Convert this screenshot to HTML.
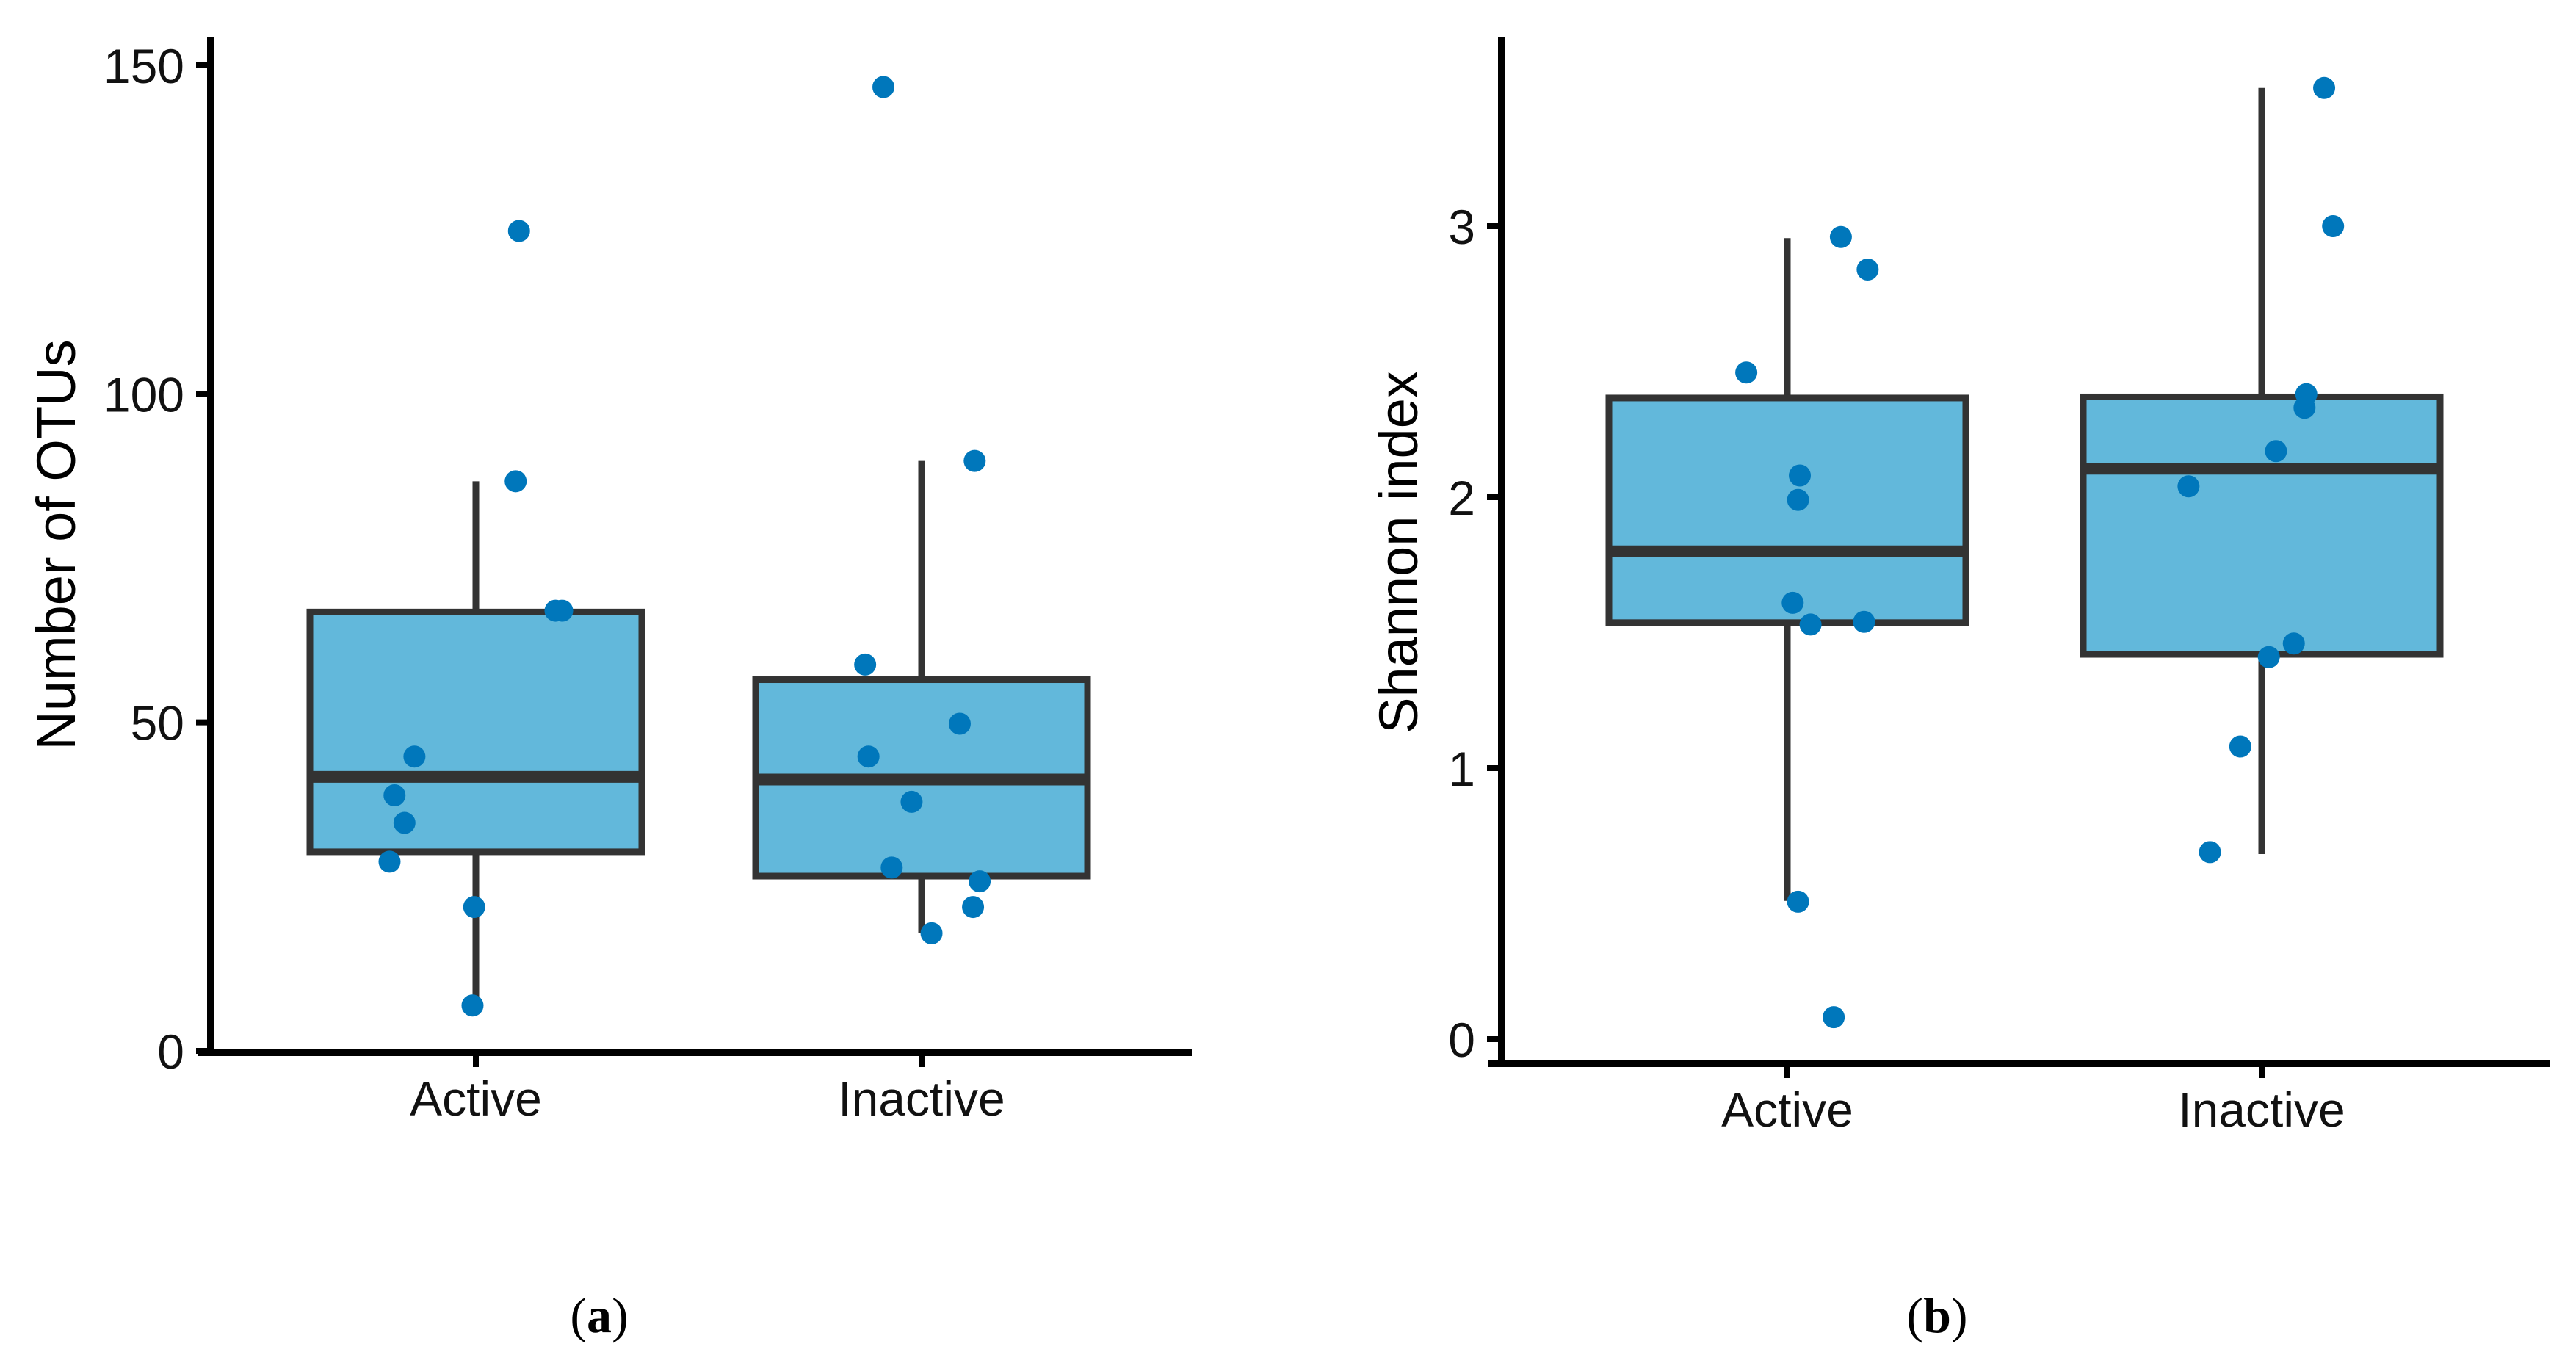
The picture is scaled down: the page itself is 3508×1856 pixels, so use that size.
<!DOCTYPE html>
<html><head><meta charset="utf-8"><style>
html,body{margin:0;padding:0;background:#fff;}
svg{display:block;font-family:"Liberation Sans",Arial,sans-serif;}
</style></head><body>
<svg id="fig" width="3508" height="1856" viewBox="0 0 3508 1856" xmlns="http://www.w3.org/2000/svg">
<rect width="3508" height="1856" fill="#fff"/>
<g id="pa"></g>
<g id="pb"></g>
<text x="816" y="1814" font-family="Liberation Serif, serif" font-size="68" text-anchor="middle">(<tspan font-weight="bold">a</tspan>)</text>
<text x="2638" y="1814" font-family="Liberation Serif, serif" font-size="68" text-anchor="middle">(<tspan font-weight="bold">b</tspan>)</text>
</svg>
<script>
const categories = ["Active", "Inactive"];
// panel a: box stats [lowWhisker, q1, median, q3, highWhisker]
const otuStats = [[7, 30.3, 41.7, 66.8, 86.7], [18, 26.6, 41.3, 56.5, 89.8]];
const otuPoints = [
  [124.8, 86.7, 67, 67, 44.8, 38.9, 34.7, 28.8, 21.9, 6.9],
  [146.7, 89.8, 58.8, 49.8, 44.8, 37.9, 27.9, 25.8, 21.9, 17.9]
];
const otuJitter = [
  [0.26, 0.24, 0.48, 0.52, -0.37, -0.49, -0.43, -0.52, -0.01, -0.02],
  [-0.23, 0.32, -0.34, 0.23, -0.32, -0.06, -0.18, 0.35, 0.31, 0.06]
];
const otuTicks = [0, 50, 100, 150];
// panel b
const shStats = [[0.51, 1.537, 1.80, 2.366, 2.956], [0.683, 1.42, 2.105, 2.37, 3.51]];
const shPoints = [
  [2.96, 2.84, 2.46, 2.08, 1.99, 1.61, 1.53, 1.54, 0.507, 0.081],
  [3.51, 3.0, 2.38, 2.33, 2.17, 2.04, 1.46, 1.41, 1.08, 0.69]
];
const shJitter = [
  [0.30, 0.45, -0.23, 0.07, 0.06, 0.03, 0.13, 0.43, 0.06, 0.26],
  [0.35, 0.40, 0.25, 0.24, 0.08, -0.41, 0.18, 0.04, -0.12, -0.29]
];
const shTicks = [0, 1, 2, 3];

const NS = "http://www.w3.org/2000/svg";
function mk(parent, tag, attrs, text) {
  const e = document.createElementNS(NS, tag);
  for (const k in attrs) e.setAttribute(k, attrs[k]);
  if (text !== undefined) e.textContent = text;
  parent.appendChild(e);
  return e;
}

function drawPanel(g, cfg, stats, points, jitter, ticks, title) {
  const y = v => cfg.y0 - (v - 0) * (cfg.y0 - cfg.yTop) / (cfg.vTop);
  const x = i => cfg.cx[i];
  const hw = cfg.halfW;
  stats.forEach((s, i) => {
    const wl = mk(g, "line", {x1: x(i), x2: x(i), y1: y(s[0]), y2: y(s[1]), stroke: "#333", "stroke-width": 9});
    
    
    const wh = mk(g, "line", {x1: x(i), x2: x(i), y1: y(s[3]), y2: y(s[4]), stroke: "#333", "stroke-width": 9});
    
    
    const r = mk(g, "rect", {x: x(i) - hw, y: y(s[3]), width: 2 * hw, height: y(s[1]) - y(s[3]), fill: "#62b8db", stroke: "#333", "stroke-width": 9});
    
    
    const m = mk(g, "line", {x1: x(i) - hw, x2: x(i) + hw, y1: y(s[2]), y2: y(s[2]), stroke: "#333", "stroke-width": 16});
    
    
  });
  points.forEach((arr, i) => {
    arr.forEach((v, j) => {
      const c = mk(g, "circle", {cx: x(i) + jitter[i][j] * hw, cy: y(v), r: 15, fill: "#0077bb"});
      
      
    });
  });
  const ya = mk(g, "line", {x1: cfg.ax, x2: cfg.ax, y1: cfg.axTop, y2: cfg.xAxisY + 5, stroke: "#000", "stroke-width": 10});
  
  
  const xa = mk(g, "line", {x1: cfg.ax - 18, x2: cfg.xEnd, y1: cfg.xAxisY, y2: cfg.xAxisY, stroke: "#000", "stroke-width": 10});
  
  
  ticks.forEach(t => {
    const tl = mk(g, "line", {x1: cfg.ax - 20, x2: cfg.ax, y1: y(t), y2: y(t), stroke: "#000", "stroke-width": 8});
    
    
    const tx = mk(g, "text", {x: cfg.ax - 36, y: y(t) + 24, "font-size": 66, "text-anchor": "end", fill: "#111"}, String(t));
    
    
  });
  categories.forEach((c, i) => {
    const tl = mk(g, "line", {x1: x(i), x2: x(i), y1: cfg.xAxisY, y2: cfg.xAxisY + 20, stroke: "#000", "stroke-width": 8});
    
    
    const tx = mk(g, "text", {x: x(i), y: cfg.xAxisY + 86, "font-size": 66, "text-anchor": "middle", fill: "#111"}, c);
    
    
  });
  const tt = mk(g, "text", {x: cfg.titleX, y: cfg.titleY, "font-size": 74, "text-anchor": "middle", transform: "rotate(-90 " + cfg.titleX + " " + cfg.titleY + ")", fill: "#000"}, title);
  
  
}

drawPanel(document.getElementById("pa"),
  {y0: 1431, yTop: 89, vTop: 150, cx: [648, 1255], halfW: 226, ax: 287, axTop: 51, xAxisY: 1433, xEnd: 1623, titleX: 102, titleY: 742},
  otuStats, otuPoints, otuJitter, otuTicks, "Number of OTUs");
drawPanel(document.getElementById("pb"),
  {y0: 1415, yTop: 308, vTop: 3, cx: [2434, 3080], halfW: 243, ax: 2045, axTop: 51, xAxisY: 1448, xEnd: 3472, titleX: 1930, titleY: 752},
  shStats, shPoints, shJitter, shTicks, "Shannon index");
</script>
</body></html>
